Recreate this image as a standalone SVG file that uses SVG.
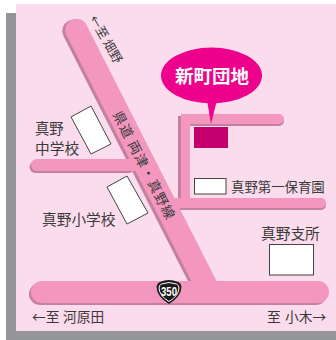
<svg xmlns="http://www.w3.org/2000/svg" width="336" height="340" viewBox="0 0 336 340">
<style>
text{font-family:"Noto Sans CJK JP","Liberation Sans",sans-serif;fill:#3a3a3a;font-size:14.7px}
.s{stroke:#c4809f;fill:none}
.r{stroke:#f497bf;fill:none}
.c{stroke-linecap:round}
.b{fill:#fff;stroke:#444;stroke-width:1}
</style>
<rect width="336" height="340" fill="#fff"/>
<rect x="6" y="13" width="330" height="327" fill="#939598"/>
<rect x="16" y="4" width="320" height="327" fill="#fbdcec"/>
<g id="connectors">
<g id="road-shadows">
<path class="s c" d="M76.500 30L207 287" stroke-width="22.500" transform="translate(-3 1)"/>
<path class="s c" d="M37 165H130" stroke-width="12" transform="translate(-1.500 2)"/>
<path class="s c" d="M42 292H318" stroke-width="22" transform="translate(-2 2)"/>
<path class="s" d="M179.500 116V205" stroke-width="3"/>
<path class="s c" d="M186 119H279" stroke-width="10" transform="translate(0 2)"/>
<path class="s c" d="M170 203H321" stroke-width="10" transform="translate(0 2)"/>
</g>
<g id="road-fills">
<path class="r c" d="M76.500 30L207 287" stroke-width="22.500"/>
<path class="r c" d="M37 165H135" stroke-width="12"/>
<path class="r c" d="M42 292H318" stroke-width="22"/>
<path class="r" d="M185.500 114V203" stroke-width="9"/>
<path class="r c" d="M186 119H279" stroke-width="10"/>
<path d="M181 114H186V120H181Z" fill="#f497bf"/>
<path class="r c" d="M170 203H321" stroke-width="10"/>
</g>
</g>
<g id="callout"><ellipse cx="211.500" cy="75.500" rx="50.500" ry="28" fill="#ec008c"/><path d="M207 100L211 124L217 100Z" fill="#ec008c"/><text x="212" y="83" text-anchor="middle" style="font-size:18.500px;font-weight:700;fill:#fff">新町団地</text></g>
<g id="site"><rect x="194" y="127" width="34" height="21" fill="#c4006e"/></g>
<g id="school1"><path class="b" d="M71 117L91 106L111 144L91 154Z"/><text x="35" y="134" style="font-size:14.300px">真野</text><text x="35" y="154">中学校</text></g>
<g id="school2"><path class="b" d="M107 187L127 176L148 213L127 224Z"/><text x="42" y="225">真野小学校</text></g>
<g id="nursery"><rect class="b" x="194.500" y="178.500" width="31.500" height="15.500"/><text x="231" y="191.500" style="font-size:13.400px">真野第一保育園</text></g>
<g id="office"><rect class="b" x="269.500" y="244.500" width="44" height="30.500"/><text x="261" y="239">真野支所</text></g>
<g id="route"><path d="M156.500 287Q157 283 160 282Q169 278 178 282Q181 283 181.500 287Q181 297 169 304Q157 297 156.500 287Z" fill="#1a1a1a"/><path d="M159 288Q159 285 161.500 284Q169 281 176.500 284Q179 285 179 288Q178.500 296 169 301.500Q159.500 296 159 288Z" fill="none" stroke="#fff" stroke-width="1"/><text x="169" y="296" text-anchor="middle" textLength="16" lengthAdjust="spacingAndGlyphs" style="font-family:'Liberation Sans',sans-serif;font-size:13px;font-weight:700;fill:#fff">350</text></g>
<g id="labels">
<text y="322" style="font-size:13.700px"><tspan x="32">←至</tspan><tspan x="63">河原田</tspan></text>
<text y="322" style="font-size:13.700px"><tspan x="267">至</tspan><tspan x="285">小木→</tspan></text>
<text transform="translate(88.700 18.500) rotate(60)" style="font-size:12.500px">←至 畑野</text>
<text transform="translate(112.500 114.300) rotate(63)" style="font-size:13.500px;letter-spacing:1px">県道 両津・真野線</text>
</g>
</svg>
